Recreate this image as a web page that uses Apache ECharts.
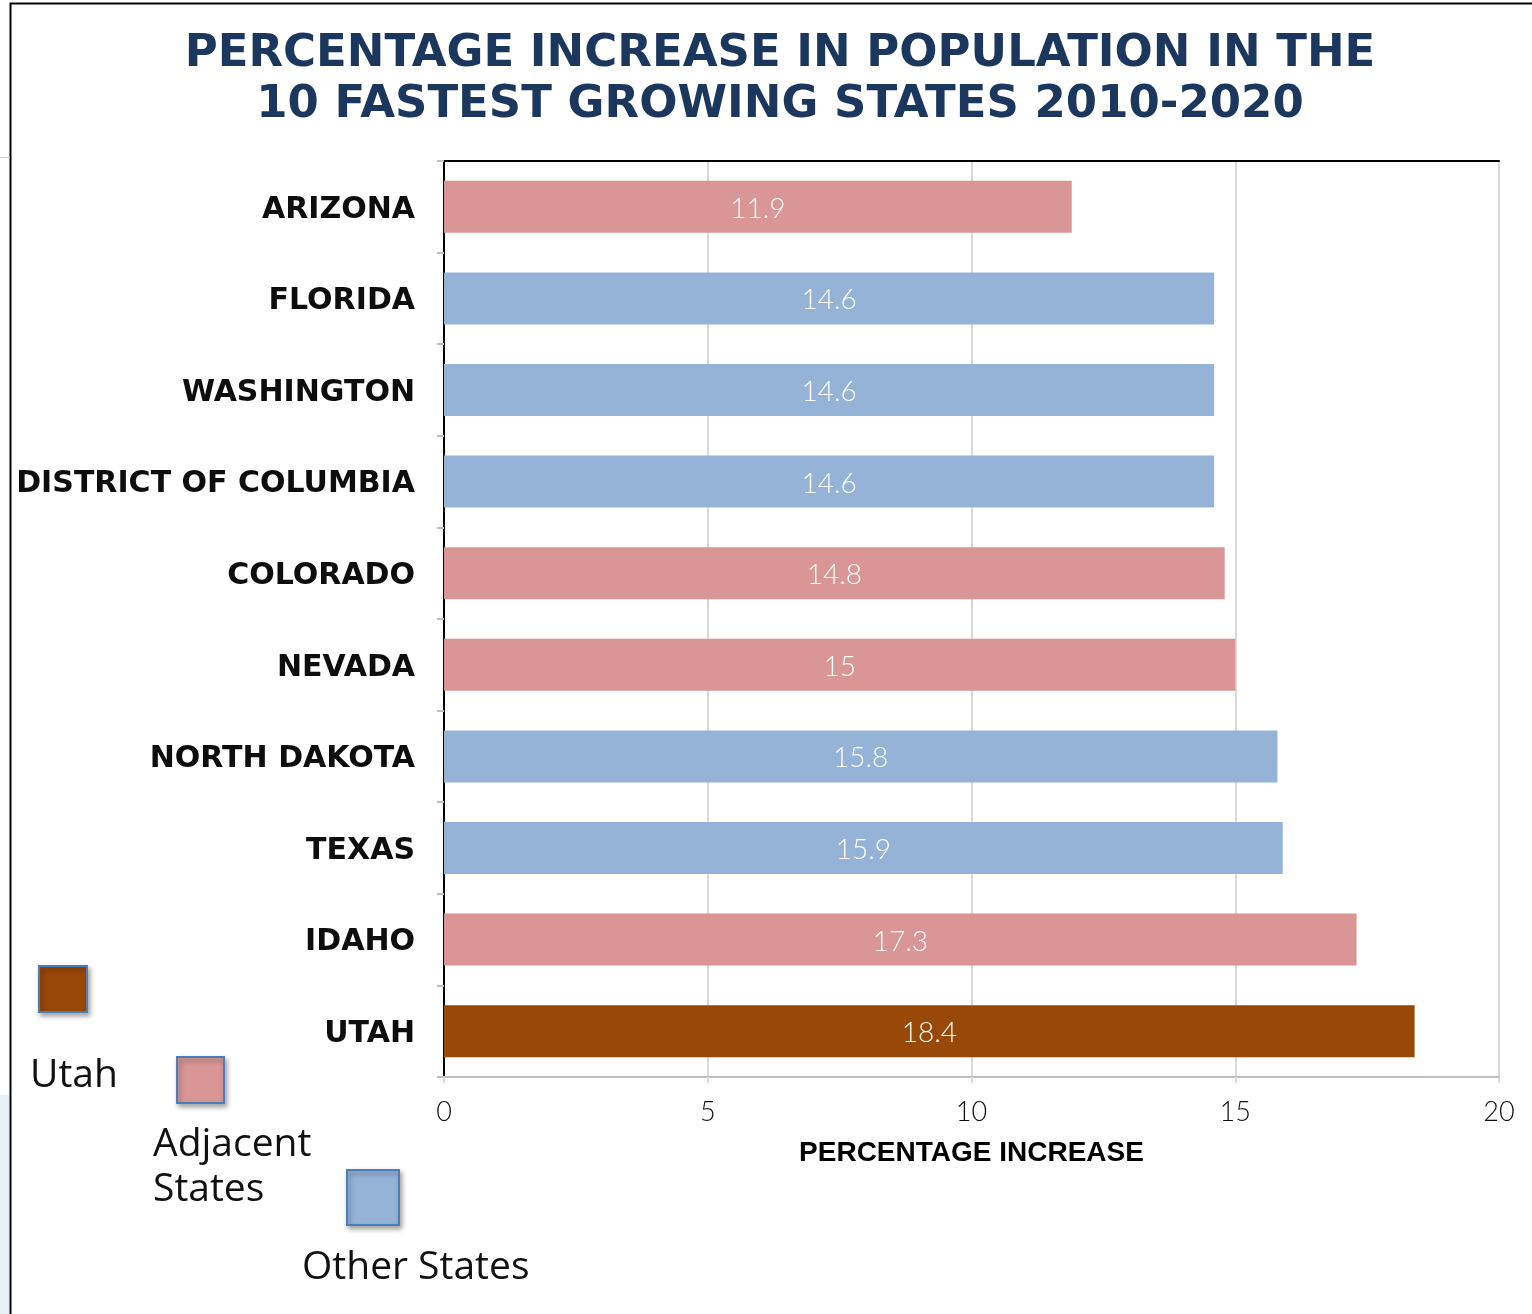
<!DOCTYPE html>
<html>
<head>
<meta charset="utf-8">
<title>Percentage Increase in Population in the 10 Fastest Growing States 2010-2020</title>
<script src="https://cdn.jsdelivr.net/npm/echarts@6/dist/echarts.min.js"></script>
<style>
  html, body { margin: 0; padding: 0; background: #fff; }
  #chart { width: 1532px; height: 1314px; }
</style>
</head>
<body>
<div id="chart"></div>
<script>
// States, top to bottom
const states = ['ARIZONA', 'FLORIDA', 'WASHINGTON', 'DISTRICT OF COLUMBIA', 'COLORADO',
                'NEVADA', 'NORTH DAKOTA', 'TEXAS', 'IDAHO', 'UTAH'];
// Population growth 2010-2020, percent
const growth = [11.9, 14.6, 14.6, 14.6, 14.8, 15, 15.8, 15.9, 17.3, 18.4];
// Group of each state (index into groupNames)
const stateGroup = [1, 2, 2, 2, 1, 1, 2, 2, 1, 0];
const groupNames = ['Utah', 'Adjacent States', 'Other States'];
const groupColors = ['#984807', '#D99694', '#95B3D7'];
// X axis ticks
const xTicks = [0, 5, 10, 15, 20];

const chart = echarts.init(document.getElementById('chart'), null, { renderer: 'canvas' });

const legendFont = '39px "Open Sans", "Noto Sans", sans-serif';
function legendBox(x, y, w, h, color) {
  return {
    type: 'rect', z: 10,
    shape: { x: x, y: y, width: w, height: h },
    style: {
      fill: color, stroke: '#4A7EBB', lineWidth: 2,
      shadowBlur: 5, shadowOffsetX: 2, shadowOffsetY: 3, shadowColor: 'rgba(0,0,0,0.35)'
    }
  };
}
function legendText(x, y, text) {
  return {
    type: 'text', z: 10,
    style: { x: x, y: y, text: text, font: legendFont, fill: '#111', verticalAlign: 'middle', align: 'left' }
  };
}

const option = {
  backgroundColor: '#ffffff',
  animation: false,
  title: {
    text: 'PERCENTAGE INCREASE IN POPULATION IN THE\n10 FASTEST GROWING STATES 2010-2020',
    left: 775,
    top: 24,
    textAlign: 'center',
    textStyle: {
      fontFamily: '"DejaVu Sans", sans-serif',
      fontWeight: 'bold',
      fontSize: 45,
      lineHeight: 51,
      color: '#1B375E'
    }
  },
  grid: { left: 444, right: 33, top: 161, bottom: 237, containLabel: false },
  xAxis: [
    {
      type: 'value',
      min: xTicks[0],
      max: xTicks[xTicks.length - 1],
      interval: 5,
      name: 'PERCENTAGE INCREASE',
      nameLocation: 'middle',
      nameGap: 62,
      nameTextStyle: {
        fontFamily: '"Liberation Sans", Arial, sans-serif',
        fontWeight: 'bold',
        fontSize: 28,
        color: '#000'
      },
      axisLine: { show: true, lineStyle: { color: '#BFBFBF', width: 2 } },
      axisTick: { show: true, length: 6, lineStyle: { color: '#D9D9D9', width: 2 } },
      splitLine: { show: true, lineStyle: { color: '#D9D9D9', width: 2 } },
      axisLabel: {
        margin: 22,
        fontFamily: 'Lato, "Open Sans", sans-serif',
        fontWeight: 300,
        fontSize: 27,
        color: '#111'
      }
    },
    {
      // top frame line of the plot
      type: 'value', position: 'top', min: 0, max: 20,
      axisLine: { show: true, lineStyle: { color: '#000', width: 2 } },
      axisTick: { show: false }, axisLabel: { show: false }, splitLine: { show: false }
    }
  ],
  yAxis: [
    {
      type: 'category',
      data: states,
      inverse: true,
      axisLine: { show: true, lineStyle: { color: '#BFBFBF', width: 2 } },
      axisTick: { show: true, length: 7, lineStyle: { color: '#BFBFBF', width: 2 } },
      axisLabel: {
        margin: 29,
        verticalAlign: 'top',
        lineHeight: 6,
        fontFamily: '"DejaVu Sans", sans-serif',
        fontWeight: 'bold',
        fontSize: 30,
        color: '#0D0D0D'
      }
    },
    {
      // right frame line of the plot
      type: 'value', position: 'right', min: 0, max: 1,
      axisLine: { show: true, lineStyle: { color: '#000', width: 2 } },
      axisTick: { show: false }, axisLabel: { show: false }, splitLine: { show: false }
    }
  ],
  series: [
    {
      type: 'bar',
      xAxisIndex: 0,
      yAxisIndex: 0,
      barWidth: 52,
      data: growth.map((v, i) => ({
        value: v,
        itemStyle: { color: groupColors[stateGroup[i]] }
      })),
      label: {
        show: true,
        position: 'inside',
        offset: [0, 2],
        formatter: '{c}',
        fontFamily: 'Lato, "Open Sans", sans-serif',
        fontWeight: 300,
        fontSize: 28,
        color: '#ffffff'
      }
    }
  ],
  graphic: [
    // outer frame
    {
      type: 'rect', z: -1,
      shape: { x: 10.5, y: 3.5, width: 1600, height: 1400 },
      style: { fill: 'none', stroke: '#000', lineWidth: 2 }
    },
    { type: 'line', z: -1, shape: { x1: 0, y1: 157.5, x2: 10, y2: 157.5 }, style: { stroke: '#D6D86A', lineWidth: 1 } },
    { type: 'rect', z: -2, shape: { x: 0, y: 1095, width: 9, height: 219 }, style: { fill: '#E8F0F8' } },
    // legend
    legendBox(39, 966, 48, 46, groupColors[0]),
    legendText(30, 1076, groupNames[0]),
    legendBox(177, 1057, 47, 46, groupColors[1]),
    legendText(153, 1145, 'Adjacent'),
    legendText(153, 1190, 'States'),
    legendBox(347, 1170, 52, 55, groupColors[2]),
    legendText(302, 1268, groupNames[2])
  ]
};

chart.setOption(option);
</script>
</body>
</html>
